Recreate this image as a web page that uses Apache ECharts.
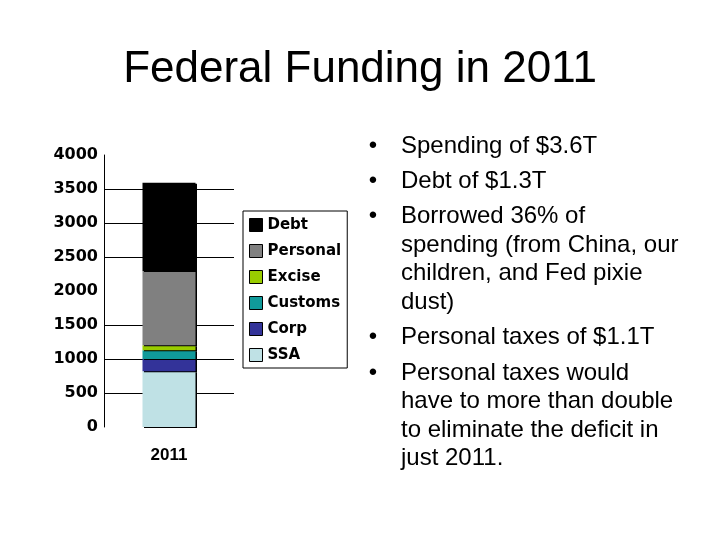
<!DOCTYPE html>
<html>
<head>
<meta charset="utf-8">
<script src="https://cdn.jsdelivr.net/npm/echarts@6/dist/echarts.min.js"></script>
<style>
html,body{margin:0;padding:0;background:#fff;}
#c{width:720px;height:540px;}
</style>
</head>
<body>
<div id="c"></div>
<script>
const titleText = 'Federal Funding in 2011';
const categories = ['2011'];
const seriesNames = ['SSA', 'Corp', 'Customs', 'Excise', 'Personal', 'Debt'];
const ssa = [819];
const corp = [181];
const customs = [130];
const excise = [72];
const personal = [1091];
const debt = [1300];
const seriesValues = [ssa, corp, customs, excise, personal, debt];
const seriesColors = ['#bfe1e5', '#333399', '#109a9a', '#99cc00', '#808080', '#000000'];
const legendOrder = ['Debt', 'Personal', 'Excise', 'Customs', 'Corp', 'SSA'];
const yTicks = [0, 500, 1000, 1500, 2000, 2500, 3000, 3500, 4000];
const bulletLines = [
  { text: 'Spending of $3.6T', bullet: true },
  { text: 'Debt of $1.3T', bullet: true },
  { text: 'Borrowed 36% of', bullet: true },
  { text: 'spending (from China, our', bullet: false },
  { text: 'children, and Fed pixie', bullet: false },
  { text: 'dust)', bullet: false },
  { text: 'Personal taxes of $1.1T', bullet: true },
  { text: 'Personal taxes would', bullet: true },
  { text: 'have to more than double', bullet: false },
  { text: 'to eliminate the deficit in', bullet: false },
  { text: 'just 2011.', bullet: false }
];
const lineYs = [146, 181, 216, 245, 273.5, 302, 337, 373, 401.5, 430, 458.5];

const chart = echarts.init(document.getElementById('c'), null, { renderer: 'canvas' });

const graphics = [{
  type: 'text', left: 'center', top: 48,
  style: { text: titleText, font: '44px "Liberation Sans", Arial, sans-serif', fill: '#000' }
}];
bulletLines.forEach((ln, i) => {
  if (ln.bullet) {
    graphics.push({ type: 'text', x: 373, y: lineYs[i],
      style: { text: '•', font: '24px "Liberation Sans", Arial, sans-serif', fill: '#000', align: 'center', verticalAlign: 'middle' } });
  }
  graphics.push({ type: 'text', x: 401, y: lineYs[i],
    style: { text: ln.text, font: '24px "Liberation Sans", Arial, sans-serif', fill: '#000', align: 'left', verticalAlign: 'middle' } });
});

const gridColors = yTicks.map(v => (v === 0 || v === 2000 || v === 4000) ? 'rgba(0,0,0,0)' : '#000');

chart.setOption({
  animation: false,
  backgroundColor: '#fff',
  grid: { left: 104, top: 155, width: 130, height: 272, containLabel: false },
  legend: {
    data: legendOrder,
    orient: 'vertical',
    left: 243, top: 211,
    padding: [6, 6, 5, 6],
    itemGap: 10,
    itemWidth: 13, itemHeight: 13,
    icon: 'rect',
    selectedMode: false,
    borderColor: '#000', borderWidth: 1,
    backgroundColor: '#fff',
    itemStyle: { borderColor: '#000', borderWidth: 1, shadowBlur: 0, shadowOffsetX: 0, shadowOffsetY: 0, shadowColor: 'rgba(0,0,0,0)' },
    textStyle: { fontFamily: '"DejaVu Sans", sans-serif', fontWeight: 'bold', fontSize: 15, color: '#000', lineHeight: 16 }
  },
  xAxis: {
    type: 'category', data: categories,
    axisLine: { show: false }, axisTick: { show: false },
    axisLabel: { fontFamily: '"Liberation Sans", Arial, sans-serif', fontWeight: 'bold', fontSize: 17, color: '#000', margin: 20 }
  },
  yAxis: {
    type: 'value', min: 0, max: 4000, interval: 500,
    axisLine: { show: true, lineStyle: { color: '#000', width: 1 } },
    axisTick: { show: false },
    axisLabel: { fontFamily: '"DejaVu Sans", sans-serif', fontWeight: 'bold', fontSize: 16, color: '#000', margin: 6,
      formatter: v => String(v) },
    splitLine: { show: true, lineStyle: { color: gridColors, width: 1 } }
  },
  series: seriesNames.map((name, i) => ({
    name: name, type: 'bar', stack: 'total', barWidth: 53,
    data: seriesValues[i],
    itemStyle: { color: seriesColors[i], shadowColor: '#000', shadowBlur: 0, shadowOffsetX: 1.5, shadowOffsetY: 1 },
    emphasis: { disabled: true }
  })),
  graphic: graphics
});
</script>
</body>
</html>
